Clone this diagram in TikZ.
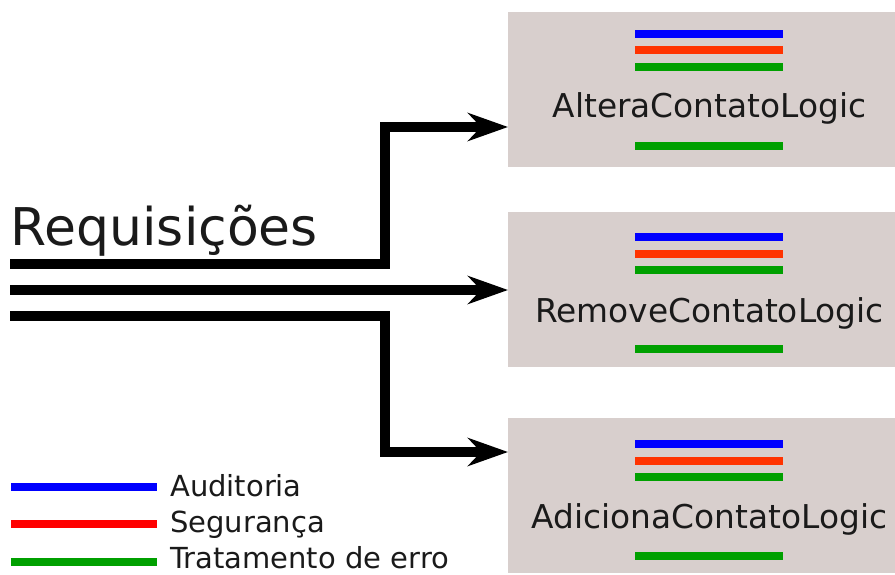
\documentclass[tikz,border=0pt]{standalone}
\usepackage{fontspec}
\setmainfont{DejaVu Sans}
\usetikzlibrary{arrows.meta}
\definecolor{boxfill}{HTML}{D8CFCD}
\definecolor{cblue}{HTML}{0000FF}
\definecolor{cred}{HTML}{FF3300}
\definecolor{lred}{HTML}{FF0000}
\definecolor{cgreen}{HTML}{00A000}
\definecolor{ink}{HTML}{1A1A1A}
\tikzset{
  logicbox/.style={rectangle, fill=boxfill, draw=none, minimum width=400pt, minimum height=155pt, anchor=north west, inner sep=0pt},
  logiclabel/.style={anchor=base, inner sep=0pt, text=ink, font=\fontsize{32.8}{38}\selectfont},
  bar/.style={line width=8pt},
  flow/.style={line width=10pt, line join=miter, -{Stealth[length=40pt,width=28pt,inset=13pt]}},
  legendlabel/.style={anchor=base west, inner sep=0pt, text=ink, font=\fontsize{29}{34}\selectfont},
}
\begin{document}
\begin{tikzpicture}[x=1pt,y=-1pt]
\useasboundingbox (0,0) rectangle (895,575);
\begin{scope}
\clip (0,0) rectangle (895,575);
% boxes
\node[logicbox] (box1) at (508,12) {};
\node[logicbox] (box2) at (508,212) {};
\node[logicbox] (box3) at (508,418) {};
\end{scope}
% box contents
\foreach \b/\top/\lab/\txt in {1/34/118/AlteraContatoLogic, 2/237/322/RemoveContatoLogic, 3/444/528/AdicionaContatoLogic}{
  \coordinate (bl\b) at (635,\top);
  \coordinate (br\b) at (783,\top);
  \draw[bar, cblue] (bl\b) -- (br\b);
  \draw[bar, cred] ([yshift=-16.5pt]bl\b) -- ([yshift=-16.5pt]br\b);
  \draw[bar, cgreen] ([yshift=-33pt]bl\b) -- ([yshift=-33pt]br\b);
  \node[logiclabel] (lab\b) at (709.5,\lab) {\txt};
  \draw[bar, cgreen] ([yshift=-112pt]bl\b) -- ([yshift=-112pt]br\b);
}
% title
\node[anchor=base west, inner sep=0pt, text=ink, font=\fontsize{52}{60}\selectfont] (req) at (10.5,245) {Requisições};
% flows
\coordinate (s1) at (10,264);
\coordinate (s2) at (10,290);
\coordinate (s3) at (10,316);
\coordinate (t1) at (385,127);
\coordinate (t3) at (385,452);
\draw[flow] (s1) -| (t1) -- (t1 -| box1.west);
\draw[flow] (s2) -- (s2 -| box2.west);
\draw[flow] (s3) -| (t3) -- (t3 -| box3.west);
% legend
\coordinate (la) at (11,487);
\coordinate (lb) at (11,524);
\coordinate (lc) at (11,562);
\draw[bar, cblue] (la) -- ++(146,0);
\draw[bar, lred] (lb) -- ++(146,0);
\draw[bar, cgreen] (lc) -- ++(146,0);
\node[legendlabel] (leg1) at (170,496) {Auditoria};
\node[legendlabel] (leg2) at (170,532) {Segurança};
\node[legendlabel] (leg3) at (170,568) {Tratamento de erro};
\end{tikzpicture}
\end{document}
